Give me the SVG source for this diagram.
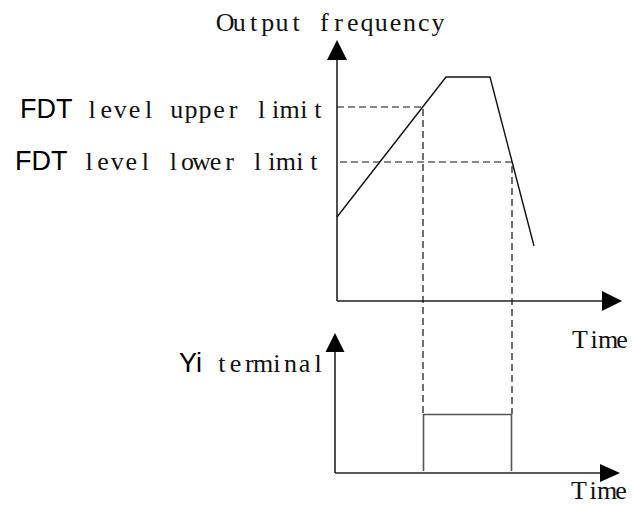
<svg xmlns="http://www.w3.org/2000/svg" width="635" height="507" viewBox="0 0 635 507">
<style>
.axis{stroke:#222;stroke-width:1.6;fill:none}
.curve{stroke:#111;stroke-width:1.4;fill:none}
.dash{stroke:#111;stroke-width:1.2;fill:none;stroke-dasharray:7 4}
.pulse{stroke:#555;stroke-width:1.6;fill:none}
.head{fill:#000}
.mono{font-family:"Liberation Serif","DejaVu Serif",serif;font-size:26px;fill:#111;text-anchor:middle}
.sans{font-family:"Liberation Sans",Arial,sans-serif;font-size:27px;fill:#000}
</style>
<rect width="635" height="507" fill="#fff"/>
<g id="connectors">
  <line class="axis" x1="337" y1="301" x2="337" y2="55"/>
  <line class="axis" x1="337" y1="301" x2="606" y2="301"/>
  <line class="axis" x1="335" y1="473" x2="335" y2="348"/>
  <line class="axis" x1="335" y1="473" x2="604" y2="473"/>
  <polygon class="head" points="337,40 327,60 347,60"/>
  <polygon class="head" points="622,301 602,291 602,311"/>
  <polygon class="head" points="335,333 325.5,352 344.5,352"/>
  <polygon class="head" points="620,473 600,464 600,482"/>
  <polyline class="curve" points="337,217 446,77 490,77 534,246"/>
  <polyline class="dash" points="337,107 423,107 423,414"/>
  <polyline class="dash" points="340,162 512,162 512,414"/>
  <polyline class="pulse" points="423.5,471 423.5,414.5 511.5,414.5 511.5,471"/>
</g>
<g id="label-output-frequency"><text class="mono" x="225.1 239.3 253.5 267.7 281.9 296.0 310.2 324.4 338.6 352.8 367.0 381.2 395.4 409.5 423.7 437.9" y="31">Output frequency</text></g>
<g id="label-upper"><text class="sans" x="20" y="118">FDT</text><text class="mono" x="92.1 106.2 120.3 134.4 148.5 162.7 176.8 190.9 205.0 219.1 233.2 247.4 261.5 275.6 289.7 303.8 317.9" y="118">level upper limit</text></g>
<g id="label-lower"><text class="sans" x="15" y="170">FDT</text><text class="mono" x="89.0 103.1 117.2 131.2 145.3 159.3 173.4 187.4 201.5 215.5 229.6 243.7 257.7 271.8 285.8 299.9 313.9" y="170">level lower limit</text></g>
<g id="label-time-top"><text class="mono" x="580 594 608 622" y="348">Time</text></g>
<g id="label-yi"><text class="sans" x="179" y="372">Yi</text><text class="mono" x="221.9 235.6 249.4 263.1 276.9 290.6 304.4 318.1" y="372">terminal</text></g>
<g id="label-time-bottom"><text class="mono" x="579 593 607 621" y="499">Time</text></g>
</svg>
